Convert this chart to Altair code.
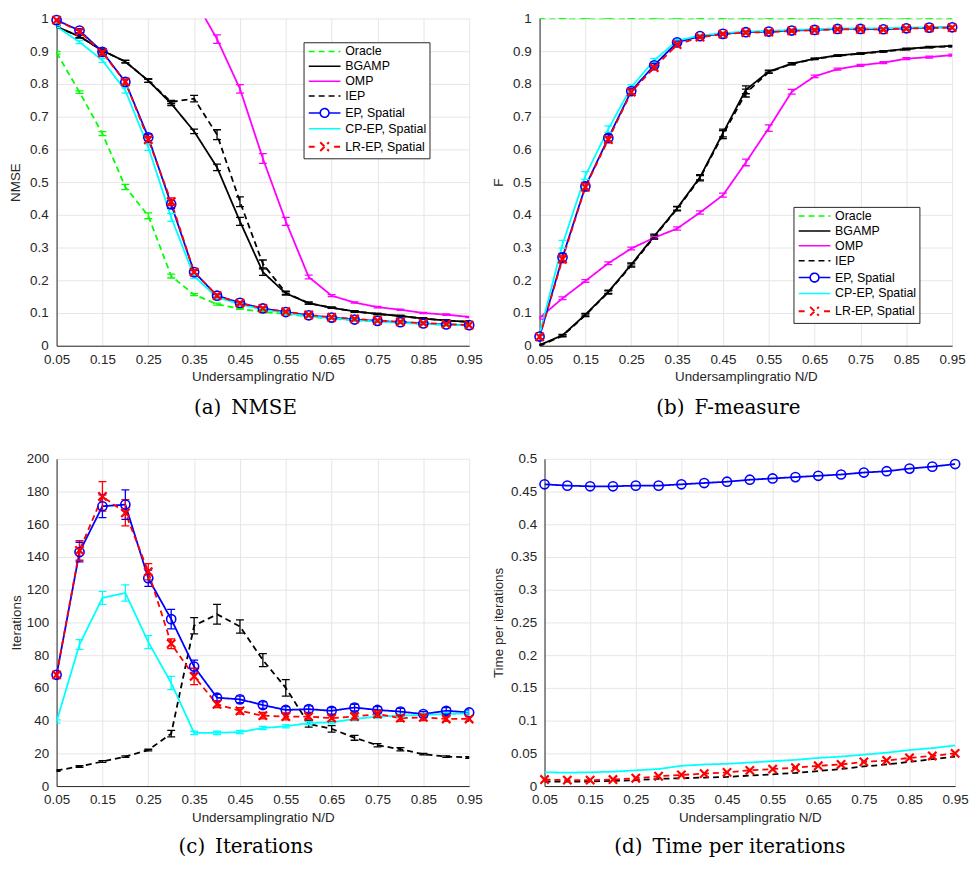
import altair as alt
import pandas as pd

X = [0.05, 0.10, 0.15, 0.20, 0.25, 0.30, 0.35, 0.40, 0.45, 0.50,
     0.55, 0.60, 0.65, 0.70, 0.75, 0.80, 0.85, 0.90, 0.95]
X_TICKS = [0.05, 0.15, 0.25, 0.35, 0.45, 0.55, 0.65, 0.75, 0.85, 0.95]

SERIES = ["Oracle", "BGAMP", "OMP", "IEP", "EP, Spatial", "CP-EP, Spatial", "LR-EP, Spatial"]
COLORS = ["#00ff00", "#000000", "#ff00ff", "#000000", "#0000ff", "#00ffff", "#ff0000"]
DASHES = [[6, 4], [1, 0], [1, 0], [6, 4], [1, 0], [1, 0], [6, 4]]

# ---- (a) NMSE ----
nmse_oracle = [0.895, 0.775, 0.648, 0.485, 0.397, 0.213, 0.156, 0.127, 0.113, 0.103, 0.097, 0.089, 0.083, 0.078, 0.074, 0.070, 0.067, 0.064, 0.062]
nmse_oracle_err = [0.004, 0.004, 0.006, 0.008, 0.009, 0.006, 0.003, 0.003, 0.002, 0.002, 0.002, 0.002, 0.002, 0.002, 0.002, 0.002, 0.002, 0.002, 0.002]
nmse_bgamp = [0.975, 0.945, 0.902, 0.868, 0.810, 0.740, 0.655, 0.545, 0.380, 0.225, 0.160, 0.130, 0.116, 0.105, 0.097, 0.091, 0.083, 0.077, 0.073]
nmse_bgamp_err = [0.003, 0.004, 0.004, 0.004, 0.005, 0.006, 0.007, 0.010, 0.012, 0.010, 0.005, 0.003, 0.002, 0.002, 0.002, 0.002, 0.002, 0.002, 0.002]
nmse_omp = [None, None, None, None, None, None, 1.060, 0.937, 0.785, 0.572, 0.380, 0.210, 0.153, 0.132, 0.118, 0.110, 0.100, 0.095, 0.088]
nmse_omp_err = [None, None, None, None, None, None, 0.020, 0.013, 0.013, 0.015, 0.012, 0.006, 0.003, 0.002, 0.002, 0.002, 0.002, 0.002, 0.002]
nmse_iep = [0.975, 0.945, 0.902, 0.868, 0.810, 0.745, 0.755, 0.645, 0.440, 0.250, 0.162, 0.130, 0.116, 0.105, 0.097, 0.091, 0.083, 0.077, 0.073]
nmse_iep_err = [0.003, 0.004, 0.004, 0.004, 0.005, 0.005, 0.010, 0.015, 0.015, 0.012, 0.005, 0.003, 0.002, 0.002, 0.002, 0.002, 0.002, 0.002, 0.002]
nmse_ep = [0.995, 0.963, 0.898, 0.806, 0.637, 0.432, 0.225, 0.153, 0.131, 0.114, 0.103, 0.093, 0.086, 0.080, 0.076, 0.072, 0.068, 0.065, 0.063]
nmse_ep_err = [0.004, 0.006, 0.007, 0.008, 0.010, 0.012, 0.006, 0.005, 0.004, 0.003, 0.003, 0.003, 0.003, 0.003, 0.003, 0.003, 0.003, 0.003, 0.003]
nmse_cpep = [0.975, 0.928, 0.872, 0.780, 0.607, 0.392, 0.212, 0.148, 0.127, 0.110, 0.100, 0.090, 0.084, 0.078, 0.074, 0.070, 0.067, 0.064, 0.062]
nmse_cpep_err = [0.003, 0.005, 0.006, 0.008, 0.010, 0.012, 0.006, 0.004, 0.003, 0.003, 0.003, 0.003, 0.003, 0.003, 0.003, 0.003, 0.003, 0.003, 0.003]
nmse_lrep = [0.995, 0.960, 0.895, 0.806, 0.630, 0.440, 0.225, 0.153, 0.130, 0.114, 0.104, 0.094, 0.087, 0.082, 0.077, 0.073, 0.069, 0.066, 0.063]
nmse_lrep_err = [0.004, 0.006, 0.007, 0.008, 0.010, 0.012, 0.006, 0.005, 0.004, 0.003, 0.003, 0.003, 0.003, 0.003, 0.003, 0.003, 0.003, 0.003, 0.003]

# ---- (b) F-measure ----
f_oracle = [1.0, 1.0, 1.0, 1.0, 1.0, 1.0, 1.0, 1.0, 1.0, 1.0, 1.0, 1.0, 1.0, 1.0, 1.0, 1.0, 1.0, 1.0, 1.0]
f_oracle_err = [0.0, 0.0, 0.0, 0.0, 0.0, 0.0, 0.0, 0.0, 0.0, 0.0, 0.0, 0.0, 0.0, 0.0, 0.0, 0.0, 0.0, 0.0, 0.0]
f_bgamp = [0.002, 0.032, 0.095, 0.165, 0.248, 0.335, 0.420, 0.515, 0.650, 0.782, 0.838, 0.862, 0.877, 0.887, 0.893, 0.900, 0.907, 0.913, 0.916]
f_bgamp_err = [0.003, 0.003, 0.004, 0.005, 0.005, 0.006, 0.006, 0.008, 0.012, 0.012, 0.004, 0.003, 0.002, 0.002, 0.002, 0.002, 0.002, 0.002, 0.002]
f_omp = [0.085, 0.145, 0.198, 0.252, 0.297, 0.330, 0.358, 0.407, 0.460, 0.560, 0.665, 0.776, 0.823, 0.845, 0.857, 0.865, 0.877, 0.882, 0.888]
f_omp_err = [0.004, 0.004, 0.004, 0.004, 0.004, 0.004, 0.005, 0.005, 0.006, 0.010, 0.010, 0.007, 0.004, 0.003, 0.003, 0.003, 0.003, 0.003, 0.003]
f_iep = [0.000, 0.030, 0.093, 0.163, 0.245, 0.332, 0.418, 0.512, 0.645, 0.772, 0.836, 0.861, 0.876, 0.886, 0.892, 0.899, 0.906, 0.912, 0.915]
f_iep_err = [0.003, 0.003, 0.004, 0.005, 0.005, 0.006, 0.006, 0.008, 0.012, 0.012, 0.004, 0.003, 0.002, 0.002, 0.002, 0.002, 0.002, 0.002, 0.002]
f_ep = [0.028, 0.270, 0.487, 0.635, 0.778, 0.857, 0.927, 0.946, 0.953, 0.958, 0.960, 0.963, 0.965, 0.968, 0.968, 0.967, 0.970, 0.972, 0.973]
f_ep_err = [0.006, 0.012, 0.012, 0.010, 0.008, 0.006, 0.004, 0.003, 0.003, 0.003, 0.003, 0.003, 0.003, 0.003, 0.003, 0.003, 0.003, 0.003, 0.003]
f_cpep = [0.035, 0.310, 0.520, 0.662, 0.790, 0.872, 0.932, 0.948, 0.955, 0.960, 0.962, 0.965, 0.967, 0.970, 0.970, 0.970, 0.972, 0.973, 0.975]
f_cpep_err = [0.005, 0.012, 0.012, 0.010, 0.008, 0.006, 0.004, 0.003, 0.003, 0.003, 0.003, 0.003, 0.003, 0.003, 0.003, 0.003, 0.003, 0.003, 0.003]
f_lrep = [0.027, 0.265, 0.485, 0.630, 0.775, 0.850, 0.920, 0.943, 0.952, 0.957, 0.958, 0.962, 0.964, 0.967, 0.967, 0.966, 0.969, 0.971, 0.972]
f_lrep_err = [0.006, 0.012, 0.012, 0.010, 0.008, 0.006, 0.004, 0.003, 0.003, 0.003, 0.003, 0.003, 0.003, 0.003, 0.003, 0.003, 0.003, 0.003, 0.003]

# ---- (c) Iterations ----
it_iep = [9.5, 12, 15, 18, 22, 32, 98, 105, 97.5, 77, 60, 38, 35, 29.5, 25, 22.5, 19.5, 18, 17.5]
it_iep_err = [0.5, 0.5, 0.5, 0.5, 0.5, 2, 5, 6, 4, 4, 5, 2, 2, 1.5, 1, 1, 0.5, 0.5, 0.5]
it_ep = [68, 143, 171, 172, 127, 102, 73, 54, 53, 49.5, 46.5, 47, 46, 48, 46.5, 45.5, 44, 46, 45]
it_ep_err = [2, 6, 7, 9, 5, 6, 4, 2, 2, 2, 2, 2, 2, 2, 2, 2, 1.5, 2, 1.5]
it_cpep = [39.5, 86.5, 115, 118, 88, 63, 32.5, 32.5, 33, 35.5, 36.5, 38.5, 39, 41, 42.5, 43, 43.5, 44, 44.5]
it_cpep_err = [1, 3, 4, 5, 4, 4, 1, 1, 1, 1, 1, 1, 1, 1, 1, 1, 1, 1, 1]
it_lrep = [68, 144, 177, 167, 131, 87, 67, 50, 46, 43, 42.5, 42.5, 41.5, 42.5, 44, 41.5, 42, 41, 41]
it_lrep_err = [2, 6, 9, 8, 5, 3, 5, 2, 2, 2, 2, 2, 2, 2, 2, 2, 2, 1.5, 1.5]

# ---- (d) Time per iterations ----
t_iep = [0.007, 0.007, 0.007, 0.008, 0.009, 0.011, 0.012, 0.013, 0.014, 0.016, 0.018, 0.020, 0.023, 0.026, 0.030, 0.033, 0.037, 0.041, 0.045]
t_ep = [0.461, 0.459, 0.458, 0.458, 0.459, 0.459, 0.461, 0.463, 0.465, 0.468, 0.470, 0.472, 0.474, 0.476, 0.479, 0.481, 0.485, 0.488, 0.492]
t_cpep = [0.021, 0.0205, 0.021, 0.022, 0.024, 0.026, 0.031, 0.033, 0.034, 0.036, 0.038, 0.040, 0.043, 0.045, 0.048, 0.051, 0.055, 0.058, 0.062]
t_lrep = [0.010, 0.009, 0.009, 0.010, 0.012, 0.015, 0.017, 0.019, 0.021, 0.024, 0.026, 0.028, 0.031, 0.033, 0.037, 0.039, 0.043, 0.046, 0.050]

NMSE_TICKS = [0, 0.1, 0.2, 0.3, 0.4, 0.5, 0.6, 0.7, 0.8, 0.9, 1]
IT_TICKS = [0, 20, 40, 60, 80, 100, 120, 140, 160, 180, 200]
T_TICKS = [0, 0.05, 0.1, 0.15, 0.2, 0.25, 0.3, 0.35, 0.4, 0.45, 0.5]

FONT = "Liberation Sans"
X_PATH = "M-1,-1L1,1M-1,1L1,-1"
LEG_LINE = "M-1,0L7,0"
LEG_EP = "M-1,0L1.9,0M4.1,0L7,0M4.1,0A1.1,1.1 0 1,1 1.9,0A1.1,1.1 0 1,1 4.1,0"
LEG_LR = "M-1,0L0.6,0M5.4,0L7,0M1.9,-1.1L4.1,1.1M1.9,1.1L4.1,-1.1"


def build(entries):
    rows = []
    for name, vals, errs in entries:
        for i, x in enumerate(X):
            v = vals[i]
            if v is None:
                continue
            e = errs[i] if errs is not None else 0.0
            rows.append({"x": x, "series": name, "v": v, "lo": v - e, "hi": v + e})
    return pd.DataFrame(rows)


def panel(entries, ytitle, ydom, yticks, caption, legend_xy, ytp, ylp, width, height,
          cap_offset, errors=True):
    df = build(entries)
    names = [e[0] for e in entries]
    dom = [n for n in SERIES if n in names]
    rc = [COLORS[SERIES.index(n)] for n in dom]
    rd = [DASHES[SERIES.index(n)] for n in dom]
    if legend_xy is not None:
        shape_expr = ("datum.value === 'EP, Spatial' ? '" + LEG_EP + "' : (datum.value === 'LR-EP, Spatial' ? '"
                      + LEG_LR + "' : '" + LEG_LINE + "')")
        dash_expr = "(datum.value === 'Oracle' || datum.value === 'IEP') ? [7, 5] : []"
        sw_expr = "datum.value === 'LR-EP, Spatial' ? 2 : 1.6"
        leg = alt.Legend(
            title=None, orient="none", legendX=legend_xy[0], legendY=legend_xy[1],
            direction="vertical", strokeColor="#262626", fillColor="white",
            padding=3, rowPadding=2, labelFont=FONT, labelFontSize=12.5, labelColor="black",
            labelOffset=26.5, symbolSize=64, labelLimit=300,
            symbolType=alt.ExprRef(expr=shape_expr),
            symbolDash=alt.ExprRef(expr=dash_expr),
            symbolStrokeWidth=alt.ExprRef(expr=sw_expr),
            symbolFillColor="transparent",
        )
    else:
        leg = None

    xscale = alt.Scale(domain=[0.05, 0.95], nice=False, zero=False)
    xaxis = alt.Axis(values=X_TICKS, format=".2f", title="Undersamplingratio N/D",
                     labelPadding=7, titlePadding=4, labelFlush=False, labelOverlap=False)
    yscale = alt.Scale(domain=ydom, nice=False, zero=False)
    yaxis = alt.Axis(values=yticks, format="~r", title=ytitle, titlePadding=ytp,
                     labelPadding=ylp, labelOverlap=False, labelFlush=False)

    def enc_y(field):
        return alt.Y(field + ":Q", scale=yscale, axis=yaxis)

    xe = alt.X("x:Q", scale=xscale, axis=xaxis)
    color = alt.Color("series:N", scale=alt.Scale(domain=dom, range=rc), legend=leg)
    base = alt.Chart(df)

    layers = [
        base.mark_line(strokeWidth=1.8, clip=True).encode(
            x=xe, y=enc_y("v"), color=color,
            strokeDash=alt.StrokeDash("series:N", scale=alt.Scale(domain=dom, range=rd), legend=None),
        )
    ]
    if errors:
        layers.append(base.mark_rule(strokeWidth=1.3, clip=True).encode(
            x=xe, y=enc_y("lo"), y2="hi:Q", color=color))
        layers.append(base.mark_rule(strokeWidth=1.3, clip=True, xOffset=-4, x2Offset=4).encode(
            x=xe, x2="x:Q", y=enc_y("lo"), color=color))
        layers.append(base.mark_rule(strokeWidth=1.3, clip=True, xOffset=-4, x2Offset=4).encode(
            x=xe, x2="x:Q", y=enc_y("hi"), color=color))
    layers.append(base.transform_filter(alt.datum.series == "EP, Spatial").mark_point(
        shape="circle", filled=False, size=85, strokeWidth=1.6, color="#0000ff", opacity=1
    ).encode(x=xe, y=enc_y("v")))
    layers.append(base.transform_filter(alt.datum.series == "LR-EP, Spatial").mark_point(
        shape=X_PATH, filled=False, size=70, strokeWidth=2.2, color="#ff0000", opacity=1
    ).encode(x=xe, y=enc_y("v")))

    return alt.layer(*layers).properties(
        width=width, height=height,
        title=alt.TitleParams(text=caption, orient="bottom", anchor="middle", frame="bounds",
                              font="DejaVu Serif", fontSize=20, fontWeight="normal",
                              color="black", offset=cap_offset),
    )


pa = panel([
    ("Oracle", nmse_oracle, nmse_oracle_err), ("BGAMP", nmse_bgamp, nmse_bgamp_err),
    ("OMP", nmse_omp, nmse_omp_err), ("IEP", nmse_iep, nmse_iep_err),
    ("EP, Spatial", nmse_ep, nmse_ep_err), ("CP-EP, Spatial", nmse_cpep, nmse_cpep_err),
    ("LR-EP, Spatial", nmse_lrep, nmse_lrep_err)],
    "NMSE", [0, 1], NMSE_TICKS, "(a)\u2002NMSE", (249, 24), 7, 8.5, 416, 330, 15)

pb = panel([
    ("Oracle", f_oracle, f_oracle_err), ("BGAMP", f_bgamp, f_bgamp_err),
    ("OMP", f_omp, f_omp_err), ("IEP", f_iep, f_iep_err),
    ("EP, Spatial", f_ep, f_ep_err), ("CP-EP, Spatial", f_cpep, f_cpep_err),
    ("LR-EP, Spatial", f_lrep, f_lrep_err)],
    "F", [0, 1], NMSE_TICKS, "(b)\u2002F-measure", (256, 190), 7, 8.5, 416, 330, 15)

pc = panel([
    ("IEP", it_iep, it_iep_err), ("EP, Spatial", it_ep, it_ep_err),
    ("CP-EP, Spatial", it_cpep, it_cpep_err), ("LR-EP, Spatial", it_lrep, it_lrep_err)],
    "Iterations", [0, 200], IT_TICKS, "(c)\u2002Iterations", None, 3, 8, 416, 330, 13)

pd_ = panel([
    ("IEP", t_iep, None), ("EP, Spatial", t_ep, None),
    ("CP-EP, Spatial", t_cpep, None), ("LR-EP, Spatial", t_lrep, None)],
    "Time per iterations", [0, 0.5], T_TICKS, "(d)\u2002Time per iterations", None, 5, 8, 414, 330, 13,
    errors=False)

row1 = alt.hconcat(pa, pb, spacing=8).resolve_scale(color="independent", strokeDash="independent")
row2 = alt.hconcat(pc, pd_, spacing=8).resolve_scale(color="independent", strokeDash="independent")

chart = alt.vconcat(row1, row2, spacing=34).resolve_scale(
    color="independent", strokeDash="independent"
).properties(
    padding=0
).configure(font=FONT, padding=0).configure_view(stroke=None).configure_axis(
    labelFont=FONT, titleFont=FONT, labelFontSize=13.5, titleFontSize=13.5,
    labelColor="#262626", titleColor="#262626", titleFontWeight="normal",
    domainColor="#262626", domainWidth=1, ticks=False, tickSize=0,
    gridColor="#e6e6e6", gridWidth=1, gridOpacity=1,
)

chart.save("out.html", embed_options={"renderer": "svg", "actions": False})
